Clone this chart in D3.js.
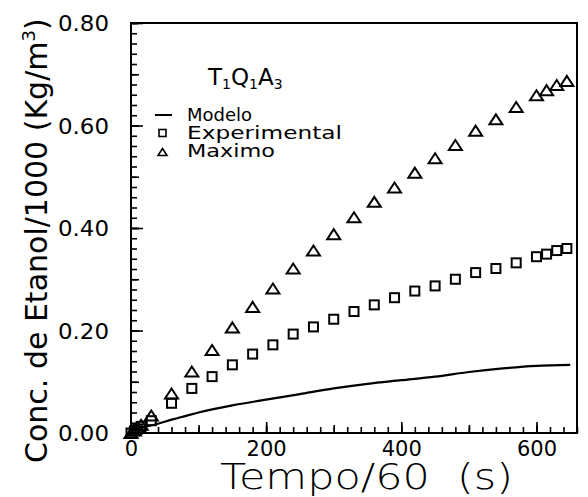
<!DOCTYPE html>
<html><head><meta charset="utf-8">
<script src="https://cdn.jsdelivr.net/npm/d3@7"></script>
<style>
body{margin:0;background:#fff;}
text{font-family:"DejaVu Sans",sans-serif;fill:#000;}
</style></head>
<body><svg id="c" width="588" height="497"></svg>
<script>
// ---- data ----
const expX = [0,5,10,15,30,60,90,120,150,180,210,240,270,300,330,360,390,420,450,480,510,540,570,600,615,630,645];
const expY = [0,0.004,0.008,0.013,0.024,0.058,0.087,0.110,0.133,0.154,0.172,0.193,0.207,0.222,0.237,0.250,0.264,0.277,0.287,0.300,0.313,0.321,0.332,0.344,0.349,0.356,0.360];
const maxX = [0,5,10,15,30,60,90,120,150,180,210,240,270,300,330,360,390,420,450,480,510,540,570,600,615,630,645];
const maxY = [0,0.005,0.010,0.016,0.034,0.077,0.120,0.162,0.206,0.246,0.282,0.321,0.356,0.388,0.421,0.451,0.479,0.508,0.536,0.562,0.590,0.612,0.636,0.659,0.669,0.679,0.687];
const modX = [0,10,20,40,60,80,100,150,200,250,300,350,400,450,500,550,600,650];
const modY = [0.003,0.008,0.012,0.018,0.026,0.033,0.040,0.054,0.065,0.076,0.087,0.096,0.103,0.110,0.119,0.126,0.131,0.133];
const xTickLabels = [0,200,400,600];
const yTickLabels = [0,0.2,0.4,0.6,0.8];
const legendLabels = ["Modelo","Experimental","Maximo"];

const svg = d3.select("#c");
const x = d3.scaleLinear().domain([0,660]).range([131,577]);
const y = d3.scaleLinear().domain([0,0.8]).range([433,23]);

// axes ticks (inside)
function ax(gen, vals, size, withLabels, tr){
  const a = gen.tickValues(vals).tickSizeInner(size).tickSizeOuter(0).tickPadding(8);
  if(withLabels){ a.tickFormat(withLabels); } else { a.tickFormat(""); }
  const g = svg.append("g").attr("transform",tr).call(a);
  g.select(".domain").remove();
  g.selectAll("line").attr("stroke","#000").attr("stroke-width",1.6);
  return g;
}
const xMinor = d3.range(0,661,20);
const yMinor = d3.range(0,41,1).map(i=>i*0.02);
ax(d3.axisBottom(x), xMinor, -6, null, "translate(0,433)");
ax(d3.axisBottom(x), d3.range(100,661,100), -8, null, "translate(0,433)");
const gx = ax(d3.axisBottom(x), xTickLabels, -11, d3.format("d"), "translate(0,433)");
gx.selectAll("text").attr("font-size",21).attr("dy","0.72em");
ax(d3.axisLeft(y), yMinor, -6, null, "translate(131,0)");
ax(d3.axisLeft(y), d3.range(0,9,1).map(i=>i*0.1), -8, null, "translate(131,0)");
const gy = ax(d3.axisLeft(y), yTickLabels, -12, d3.format(".2f"), "translate(131,0)");
gy.selectAll("text").attr("font-size",21).attr("x",-22).attr("dy","0.36em")
  .attr("textLength",51).attr("lengthAdjust","spacingAndGlyphs");

// frame
svg.append("rect").attr("x",x(0)).attr("y",y(0.8)).attr("width",x(660)-x(0)).attr("height",y(0)-y(0.8))
  .attr("fill","none").attr("stroke","#000").attr("stroke-width",2);

// model line
svg.append("path").datum(modX.map((d,i)=>[d,modY[i]]))
  .attr("d",d3.line().x(d=>x(d[0])).y(d=>y(d[1])).curve(d3.curveMonotoneX))
  .attr("fill","none").attr("stroke","#000").attr("stroke-width",2.2);

// squares
const sq = 9;
svg.append("g").selectAll("rect").data(expX.map((d,i)=>[d,expY[i]])).join("rect")
  .attr("x",d=>x(d[0])-sq/2).attr("y",d=>y(d[1])-sq/2).attr("width",sq).attr("height",sq)
  .attr("fill","none").attr("stroke","#000").attr("stroke-width",2);

// triangles
const tri = (cx,cy,w,h)=>`M${cx-w/2},${cy+h/2}L${cx+w/2},${cy+h/2}L${cx},${cy-h/2}Z`;
svg.append("g").selectAll("path").data(maxX.map((d,i)=>[d,maxY[i]])).join("path")
  .attr("d",d=>tri(x(d[0]),y(d[1]),13,10))
  .attr("fill","none").attr("stroke","#000").attr("stroke-width",2).attr("stroke-linejoin","miter");

// title T1Q1A3
const t = svg.append("text").attr("x",208).attr("y",85).attr("font-size",23);
t.append("tspan").text("T");
t.append("tspan").attr("font-size",14).attr("dy",4).text("1");
t.append("tspan").attr("dy",-4).text("Q");
t.append("tspan").attr("font-size",14).attr("dy",4).text("1");
t.append("tspan").attr("dy",-4).text("A");
t.append("tspan").attr("font-size",14).attr("dy",4).text("3");

// legend
const ly = [115,133,151];
svg.append("line").attr("x1",155).attr("x2",172).attr("y1",ly[0]).attr("y2",ly[0]).attr("stroke","#000").attr("stroke-width",2);
svg.append("rect").attr("x",159).attr("y",ly[1]-3.5).attr("width",7).attr("height",7).attr("fill","none").attr("stroke","#000").attr("stroke-width",1.6);
svg.append("path").attr("d",tri(162.5,ly[2]+1,9,7)).attr("fill","none").attr("stroke","#000").attr("stroke-width",1.6);
const lw = [65,155,88];
legendLabels.forEach((s,i)=>{
  svg.append("text").attr("x",187).attr("y",ly[i]+6).attr("font-size",18).attr("textLength",lw[i]).attr("lengthAdjust","spacingAndGlyphs").text(s);
});

// axis titles
svg.append("text").attr("x",220).attr("y",489).attr("font-size",36).attr("font-weight",300)
  .attr("textLength",293).attr("lengthAdjust","spacingAndGlyphs").style("white-space","pre").text("Tempo/60  (s)");
const yt = svg.append("text").attr("transform","translate(47,463) rotate(-90)").attr("font-size",30)
  .style("white-space","pre");
yt.append("tspan").text("Conc. de Etanol/1000 (Kg/m");
yt.append("tspan").attr("font-size",18).attr("dy",-12).text("3");
yt.append("tspan").attr("dy",12).text(")");
</script></body></html>
